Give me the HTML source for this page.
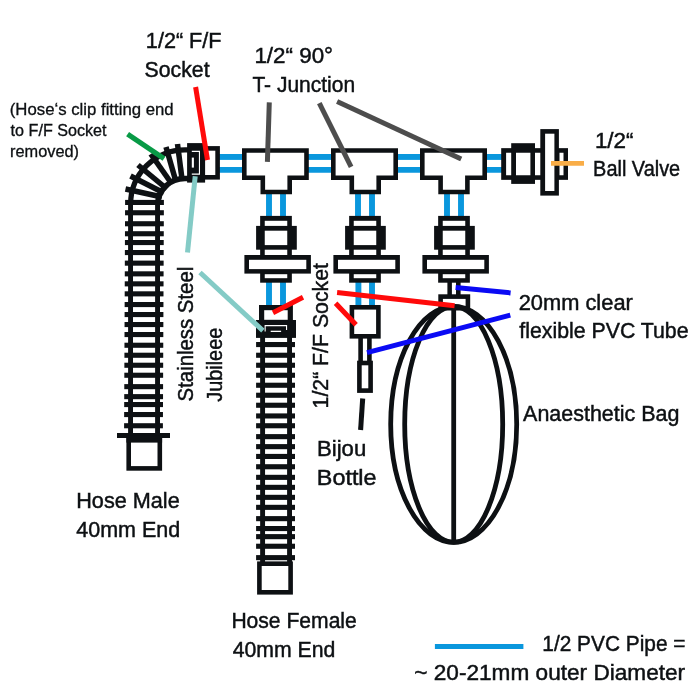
<!DOCTYPE html>
<html><head><meta charset="utf-8"><title>Diagram</title>
<style>
html,body{margin:0;padding:0;background:#fff;}
svg{display:block;will-change:transform;}
text{font-family:"Liberation Sans",sans-serif;fill:#0d1013;stroke:#0d1013;stroke-width:0.45px;}
text.sm{stroke-width:0.3px;}
</style></head><body>
<svg width="700" height="700" viewBox="0 0 700 700">
<rect width="700" height="700" fill="#fff"/>
<rect x="218.00" y="154.00" width="26.00" height="5.90" fill="#0a97dd"/>
<rect x="218.00" y="167.00" width="26.00" height="5.75" fill="#0a97dd"/>
<rect x="307.00" y="154.00" width="26.00" height="5.90" fill="#0a97dd"/>
<rect x="307.00" y="167.00" width="26.00" height="5.75" fill="#0a97dd"/>
<rect x="396.00" y="154.00" width="26.00" height="5.90" fill="#0a97dd"/>
<rect x="396.00" y="167.00" width="26.00" height="5.75" fill="#0a97dd"/>
<rect x="485.00" y="154.00" width="18.00" height="5.90" fill="#0a97dd"/>
<rect x="485.00" y="167.00" width="18.00" height="5.75" fill="#0a97dd"/>
<rect x="266.05" y="192.00" width="5.90" height="26.00" fill="#0a97dd"/>
<rect x="280.05" y="192.00" width="5.90" height="26.00" fill="#0a97dd"/>
<rect x="355.05" y="192.00" width="5.90" height="26.00" fill="#0a97dd"/>
<rect x="369.05" y="192.00" width="5.90" height="26.00" fill="#0a97dd"/>
<rect x="444.05" y="192.00" width="5.90" height="26.00" fill="#0a97dd"/>
<rect x="458.05" y="192.00" width="5.90" height="26.00" fill="#0a97dd"/>
<rect x="266.05" y="281.00" width="5.90" height="26.00" fill="#0a97dd"/>
<rect x="280.05" y="281.00" width="5.90" height="26.00" fill="#0a97dd"/>
<rect x="355.45" y="281.00" width="5.90" height="26.00" fill="#0a97dd"/>
<rect x="369.05" y="281.00" width="5.90" height="26.00" fill="#0a97dd"/>
<rect x="128.10" y="204.00" width="4.90" height="232.00" fill="#0d1013"/>
<rect x="155.10" y="204.00" width="4.90" height="232.00" fill="#0d1013"/>
<rect x="125.10" y="199.90" width="38.80" height="5.10" fill="#0d1013"/>
<rect x="125.05" y="210.20" width="38.80" height="5.10" fill="#0d1013"/>
<rect x="125.00" y="221.20" width="38.80" height="5.10" fill="#0d1013"/>
<rect x="124.96" y="231.20" width="38.80" height="5.10" fill="#0d1013"/>
<rect x="124.92" y="240.00" width="38.80" height="5.10" fill="#0d1013"/>
<rect x="124.88" y="250.00" width="38.80" height="5.10" fill="#0d1013"/>
<rect x="124.83" y="260.60" width="38.80" height="5.10" fill="#0d1013"/>
<rect x="124.78" y="271.30" width="38.80" height="5.10" fill="#0d1013"/>
<rect x="124.74" y="281.30" width="38.80" height="5.10" fill="#0d1013"/>
<rect x="124.69" y="291.30" width="38.80" height="5.10" fill="#0d1013"/>
<rect x="124.64" y="302.00" width="38.80" height="5.10" fill="#0d1013"/>
<rect x="124.60" y="312.00" width="38.80" height="5.10" fill="#0d1013"/>
<rect x="124.55" y="322.00" width="38.80" height="5.10" fill="#0d1013"/>
<rect x="124.51" y="332.00" width="38.80" height="5.10" fill="#0d1013"/>
<rect x="124.46" y="342.70" width="38.80" height="5.10" fill="#0d1013"/>
<rect x="124.42" y="352.70" width="38.80" height="5.10" fill="#0d1013"/>
<rect x="124.37" y="362.70" width="38.80" height="5.10" fill="#0d1013"/>
<rect x="124.33" y="372.70" width="38.80" height="5.10" fill="#0d1013"/>
<rect x="124.28" y="384.10" width="38.80" height="5.10" fill="#0d1013"/>
<rect x="124.23" y="394.10" width="38.80" height="5.10" fill="#0d1013"/>
<rect x="124.19" y="402.00" width="38.80" height="5.10" fill="#0d1013"/>
<rect x="124.15" y="412.00" width="38.80" height="5.10" fill="#0d1013"/>
<rect x="124.10" y="423.20" width="38.80" height="5.10" fill="#0d1013"/>
<path d="M130.65 205.0 V204.0 A54.35 54.20 0 0 1 185.0 149.8 H188.0" fill="none" stroke="#0d1013" stroke-width="5.3"/>
<path d="M157.65 205.0 V204.0 A27.35 25.60 0 0 1 185.0 178.4 H188.0" fill="none" stroke="#0d1013" stroke-width="5.5"/>
<line x1="125.5" y1="189" x2="162" y2="197" stroke="#0d1013" stroke-width="5.5"/>
<line x1="130.5" y1="176" x2="164" y2="193" stroke="#0d1013" stroke-width="5.5"/>
<line x1="138" y1="165" x2="167" y2="189" stroke="#0d1013" stroke-width="5.5"/>
<line x1="150.8" y1="154" x2="170.5" y2="182" stroke="#0d1013" stroke-width="5.5"/>
<line x1="166" y1="147" x2="175.5" y2="180" stroke="#0d1013" stroke-width="5.5"/>
<line x1="177.5" y1="144" x2="182" y2="179" stroke="#0d1013" stroke-width="5.5"/>
<rect x="117.00" y="433.00" width="53.00" height="5.00" fill="#0d1013"/>
<rect x="128.70" y="438.30" width="31.10" height="30.10" fill="#fff" stroke="#0d1013" stroke-width="4.6"/>
<rect x="126.40" y="436.00" width="35.70" height="6.60" fill="#0d1013"/>
<rect x="260.15" y="336.00" width="4.90" height="227.00" fill="#0d1013"/>
<rect x="287.10" y="336.00" width="4.90" height="227.00" fill="#0d1013"/>
<rect x="256.10" y="342.00" width="38.90" height="5.10" fill="#0d1013"/>
<rect x="256.10" y="352.70" width="38.90" height="5.10" fill="#0d1013"/>
<rect x="256.10" y="362.70" width="38.90" height="5.10" fill="#0d1013"/>
<rect x="256.10" y="372.70" width="38.90" height="5.10" fill="#0d1013"/>
<rect x="256.10" y="382.70" width="38.90" height="5.10" fill="#0d1013"/>
<rect x="256.10" y="392.70" width="38.90" height="5.10" fill="#0d1013"/>
<rect x="256.10" y="402.70" width="38.90" height="5.10" fill="#0d1013"/>
<rect x="256.10" y="413.40" width="38.90" height="5.10" fill="#0d1013"/>
<rect x="256.10" y="423.20" width="38.90" height="5.10" fill="#0d1013"/>
<rect x="256.10" y="434.10" width="38.90" height="5.10" fill="#0d1013"/>
<rect x="256.10" y="444.10" width="38.90" height="5.10" fill="#0d1013"/>
<rect x="256.10" y="453.90" width="38.90" height="5.10" fill="#0d1013"/>
<rect x="256.10" y="464.20" width="38.90" height="5.10" fill="#0d1013"/>
<rect x="256.10" y="474.80" width="38.90" height="5.10" fill="#0d1013"/>
<rect x="256.10" y="484.80" width="38.90" height="5.10" fill="#0d1013"/>
<rect x="256.10" y="494.80" width="38.90" height="5.10" fill="#0d1013"/>
<rect x="256.10" y="504.80" width="38.90" height="5.10" fill="#0d1013"/>
<rect x="256.10" y="516.10" width="38.90" height="5.10" fill="#0d1013"/>
<rect x="256.10" y="526.00" width="38.90" height="5.10" fill="#0d1013"/>
<rect x="256.10" y="534.10" width="38.90" height="5.10" fill="#0d1013"/>
<rect x="256.10" y="543.70" width="38.90" height="5.10" fill="#0d1013"/>
<rect x="256.10" y="555.10" width="38.90" height="5.10" fill="#0d1013"/>
<rect x="259.40" y="563.70" width="31.20" height="28.60" fill="#fff" stroke="#0d1013" stroke-width="4.6"/>
<rect x="202.30" y="148.40" width="15.30" height="28.90" fill="#fff" stroke="#0d1013" stroke-width="4.6"/>
<rect x="187.10" y="143.10" width="18.00" height="39.50" fill="#0d1013"/>
<path d="M191.8 151.4 H199.45 V174.1 H191.8" fill="none" stroke="#fff" stroke-width="1.1"/>
<rect x="191.80" y="157.60" width="2.10" height="10.00" fill="#fff"/>
<rect x="261.60" y="307.60" width="28.70" height="14.80" fill="#fff" stroke="#0d1013" stroke-width="5.2"/>
<rect x="256.00" y="320.00" width="40.00" height="17.90" fill="#0d1013"/>
<path d="M265.15 331.6 V325.6 H286.55 V330" fill="none" stroke="#fff" stroke-width="1.1"/>
<rect x="270.70" y="330.70" width="10.40" height="1.30" fill="#fff"/>
<rect x="351.90" y="307.30" width="26.50" height="29.00" fill="#fff" stroke="#0d1013" stroke-width="4.6"/>
<rect x="358.30" y="338.00" width="4.60" height="23.00" fill="#0d1013"/>
<rect x="367.10" y="338.00" width="4.60" height="23.00" fill="#0d1013"/>
<rect x="359.40" y="363.00" width="11.20" height="27.60" fill="#fff" stroke="#0d1013" stroke-width="4.6"/>
<polygon points="244.30,150.50 306.50,150.50 306.50,177.70 289.70,177.70 289.70,192.00 262.80,192.00 262.80,177.70 244.30,177.70" fill="#fff" stroke="#0d1013" stroke-width="4.6"/>
<polygon points="333.30,150.50 395.70,150.50 395.70,177.70 378.70,177.70 378.70,192.00 351.80,192.00 351.80,177.70 333.30,177.70" fill="#fff" stroke="#0d1013" stroke-width="4.6"/>
<polygon points="422.30,150.50 484.70,150.50 484.70,177.70 467.40,177.70 467.40,192.00 440.60,192.00 440.60,177.70 422.30,177.70" fill="#fff" stroke="#0d1013" stroke-width="4.6"/>
<g transform="translate(276.0 215.9)">
<rect x="-15.85" y="0.00" width="31.70" height="66.80" fill="#0d1013"/>
<rect x="-19.90" y="10.00" width="40.70" height="23.80" fill="#0d1013"/>
<rect x="-31.60" y="39.10" width="66.50" height="18.60" fill="#0d1013"/>
<rect x="-11.25" y="4.90" width="22.50" height="5.10" fill="#fff"/>
<rect x="-11.25" y="14.80" width="22.50" height="14.40" fill="#fff"/>
<rect x="-11.25" y="33.80" width="22.50" height="5.30" fill="#fff"/>
<rect x="-27.00" y="43.90" width="57.30" height="9.30" fill="#fff"/>
<rect x="-11.25" y="58.30" width="22.50" height="4.00" fill="#fff"/>
</g>
<g transform="translate(365.0 215.9)">
<rect x="-15.85" y="0.00" width="31.70" height="66.80" fill="#0d1013"/>
<rect x="-19.90" y="10.00" width="40.70" height="23.80" fill="#0d1013"/>
<rect x="-31.60" y="39.10" width="66.50" height="18.60" fill="#0d1013"/>
<rect x="-11.25" y="4.90" width="22.50" height="5.10" fill="#fff"/>
<rect x="-11.25" y="14.80" width="22.50" height="14.40" fill="#fff"/>
<rect x="-11.25" y="33.80" width="22.50" height="5.30" fill="#fff"/>
<rect x="-27.00" y="43.90" width="57.30" height="9.30" fill="#fff"/>
<rect x="-11.25" y="58.30" width="22.50" height="4.00" fill="#fff"/>
</g>
<g transform="translate(454.0 215.9)">
<rect x="-15.85" y="0.00" width="31.70" height="66.80" fill="#0d1013"/>
<rect x="-19.90" y="10.00" width="40.70" height="23.80" fill="#0d1013"/>
<rect x="-31.60" y="39.10" width="66.50" height="18.60" fill="#0d1013"/>
<rect x="-11.25" y="4.90" width="22.50" height="5.10" fill="#fff"/>
<rect x="-11.25" y="14.80" width="22.50" height="14.40" fill="#fff"/>
<rect x="-11.25" y="33.80" width="22.50" height="5.30" fill="#fff"/>
<rect x="-27.00" y="43.90" width="57.30" height="9.30" fill="#fff"/>
<rect x="-11.25" y="58.30" width="22.50" height="4.00" fill="#fff"/>
</g>
<g transform="translate(501.2 164) rotate(-90)">
<rect x="-15.85" y="0.00" width="31.70" height="66.80" fill="#0d1013"/>
<rect x="-19.90" y="10.00" width="40.70" height="23.80" fill="#0d1013"/>
<rect x="-31.60" y="39.10" width="66.50" height="18.60" fill="#0d1013"/>
<rect x="-11.25" y="4.90" width="22.50" height="5.10" fill="#fff"/>
<rect x="-11.25" y="14.80" width="22.50" height="14.40" fill="#fff"/>
<rect x="-11.25" y="33.80" width="22.50" height="5.30" fill="#fff"/>
<rect x="-27.00" y="43.90" width="57.30" height="9.30" fill="#fff"/>
<rect x="-11.25" y="58.30" width="22.50" height="4.00" fill="#fff"/>
</g>
<rect x="447.40" y="282.00" width="4.50" height="14.00" fill="#0d1013"/>
<rect x="456.00" y="282.00" width="4.60" height="14.00" fill="#0d1013"/>
<rect x="440.60" y="296.60" width="27.30" height="11.60" fill="#fff" stroke="#0d1013" stroke-width="4.6"/>
<ellipse cx="453.7" cy="424.3" rx="63" ry="118" fill="none" stroke="#0d1013" stroke-width="4.8"/>
<ellipse cx="453.7" cy="424.3" rx="49" ry="118" fill="none" stroke="#0d1013" stroke-width="4.8"/>
<line x1="453.7" y1="306.0" x2="453.7" y2="542.0" stroke="#0d1013" stroke-width="4.8"/>
<line x1="362.7" y1="398.5" x2="360.6" y2="430.0" stroke="#0d1013" stroke-width="5"/>
<line x1="269.3" y1="102.3" x2="267.4" y2="161.8" stroke="#4d4d4d" stroke-width="5"/>
<line x1="319.3" y1="103.2" x2="351.1" y2="166.8" stroke="#4d4d4d" stroke-width="5"/>
<line x1="337.1" y1="101.4" x2="461.2" y2="159.0" stroke="#4d4d4d" stroke-width="5"/>
<line x1="195.6" y1="87.0" x2="207.5" y2="160.0" stroke="#ff0a0a" stroke-width="5"/>
<line x1="127.6" y1="134.2" x2="164.0" y2="158.6" stroke="#089a46" stroke-width="5.2"/>
<line x1="195.2" y1="176.3" x2="187.5" y2="252.5" stroke="#84cbc6" stroke-width="5"/>
<line x1="200.0" y1="272.5" x2="262.9" y2="330.7" stroke="#84cbc6" stroke-width="5"/>
<line x1="273.0" y1="312.8" x2="303.0" y2="297.3" stroke="#ff0a0a" stroke-width="5"/>
<line x1="337.1" y1="292.6" x2="454.6" y2="305.8" stroke="#ff0a0a" stroke-width="5"/>
<line x1="335.6" y1="303.2" x2="356.0" y2="324.8" stroke="#ff0a0a" stroke-width="5"/>
<line x1="455.6" y1="287.6" x2="510.6" y2="292.9" stroke="#0a0af4" stroke-width="5"/>
<line x1="367.0" y1="352.7" x2="510.3" y2="315.1" stroke="#0a0af4" stroke-width="5"/>
<line x1="551.0" y1="163.4" x2="584.0" y2="163.4" stroke="#f9ad47" stroke-width="4.8"/>
<line x1="434.9" y1="646.5" x2="523.4" y2="646.5" stroke="#0a97dd" stroke-width="4.9"/>
<text x="145.88" y="48.3" font-size="21.2" textLength="75.65" lengthAdjust="spacingAndGlyphs">1/2“ F/F</text>
<text x="144.63" y="77.1" font-size="21.2" textLength="64.98" lengthAdjust="spacingAndGlyphs">Socket</text>
<text x="254.43" y="62.9" font-size="21.2" textLength="78.63" lengthAdjust="spacingAndGlyphs">1/2“ 90°</text>
<text x="252.46" y="91.6" font-size="21.2" textLength="102.65" lengthAdjust="spacingAndGlyphs">T- Junction</text>
<text class="sm" x="9.75" y="115.2" font-size="15.6" textLength="163.91" lengthAdjust="spacingAndGlyphs">(Hose‘s clip fitting end</text>
<text class="sm" x="10.63" y="136.3" font-size="15.6" textLength="95.92" lengthAdjust="spacingAndGlyphs">to F/F Socket</text>
<text class="sm" x="10.09" y="157.4" font-size="15.6" textLength="68.97" lengthAdjust="spacingAndGlyphs">removed)</text>
<text x="594.93" y="147.6" font-size="21.2" textLength="38.58" lengthAdjust="spacingAndGlyphs">1/2“</text>
<text x="593.12" y="176.4" font-size="21.2" textLength="87.07" lengthAdjust="spacingAndGlyphs">Ball Valve</text>
<text x="518.65" y="309.9" font-size="21.2" textLength="114.19" lengthAdjust="spacingAndGlyphs">20mm clear</text>
<text x="519.34" y="338.4" font-size="21.2" textLength="169.2" lengthAdjust="spacingAndGlyphs">flexible PVC Tube</text>
<text x="523.14" y="420.6" font-size="21.2" textLength="156.2" lengthAdjust="spacingAndGlyphs">Anaesthetic Bag</text>
<text x="192.9" y="401.38" font-size="21.2" textLength="134.62" lengthAdjust="spacingAndGlyphs" transform="rotate(-90 192.9 401.38)">Stainless Steel</text>
<text x="221.7" y="401.69" font-size="21.2" textLength="73.91" lengthAdjust="spacingAndGlyphs" transform="rotate(-90 221.7 401.69)">Jubileee</text>
<text x="327.9" y="408.43" font-size="21.2" textLength="145.38" lengthAdjust="spacingAndGlyphs" transform="rotate(-90 327.9 408.43)">1/2“ F/F Socket</text>
<text x="316.93" y="456.1" font-size="21.2" textLength="49.31" lengthAdjust="spacingAndGlyphs">Bijou</text>
<text x="316.84" y="484.8" font-size="21.2" textLength="59.72" lengthAdjust="spacingAndGlyphs">Bottle</text>
<text x="76.23" y="507.8" font-size="21.2" textLength="103.49" lengthAdjust="spacingAndGlyphs">Hose Male</text>
<text x="76.22" y="536.6" font-size="21.2" textLength="103.93" lengthAdjust="spacingAndGlyphs">40mm End</text>
<text x="231.39" y="627.7" font-size="21.2" textLength="125.4" lengthAdjust="spacingAndGlyphs">Hose Female</text>
<text x="232.66" y="656.5" font-size="21.2" textLength="102.61" lengthAdjust="spacingAndGlyphs">40mm End</text>
<text x="542.31" y="650.7" font-size="21.2" textLength="143.17" lengthAdjust="spacingAndGlyphs">1/2 PVC Pipe =</text>
<text x="414.24" y="679.9" font-size="21.2" textLength="270.91" lengthAdjust="spacingAndGlyphs">~ 20-21mm outer Diameter</text>
</svg>
</body></html>
